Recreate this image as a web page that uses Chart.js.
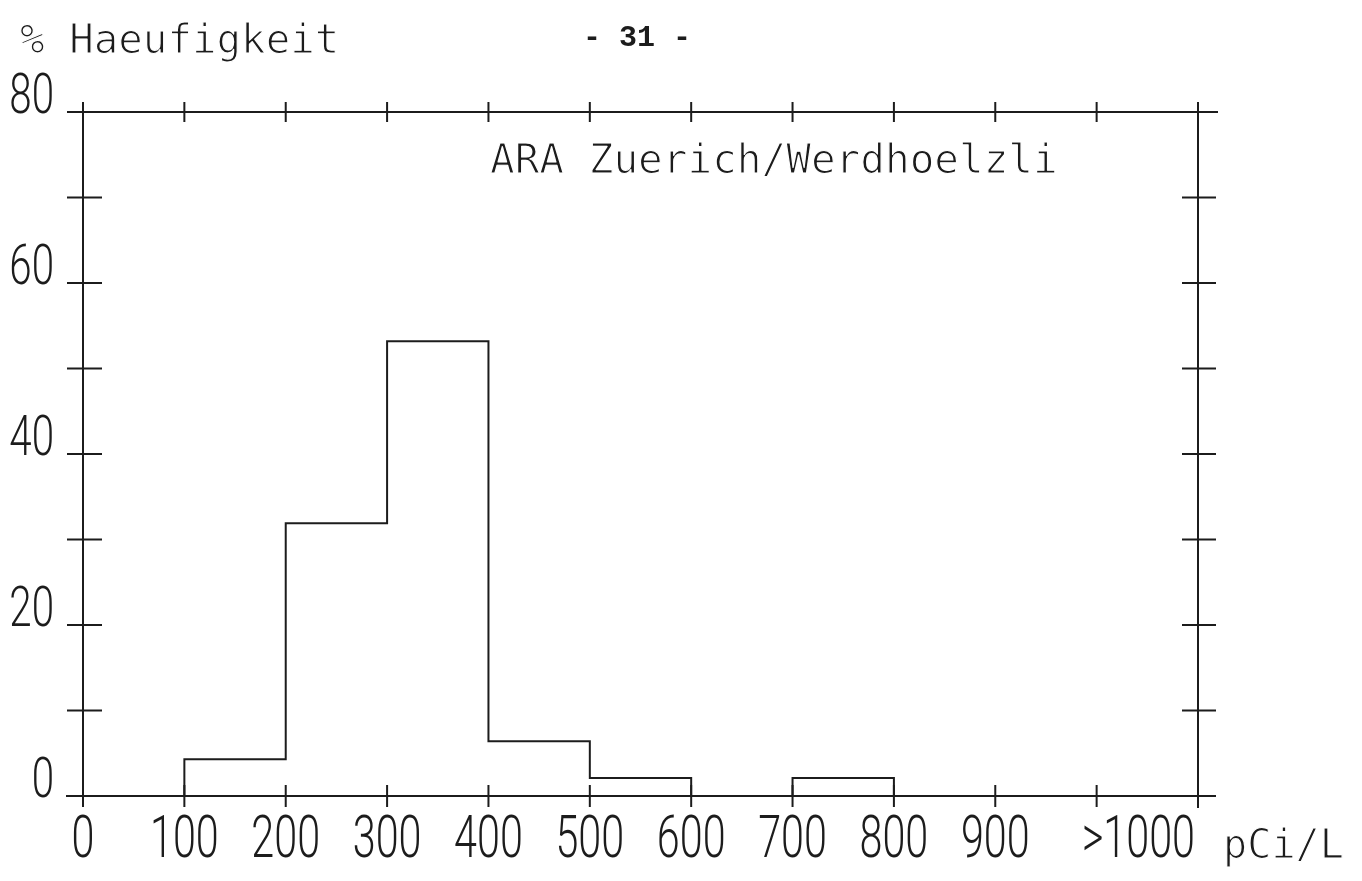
<!DOCTYPE html>
<html>
<head>
<meta charset="utf-8">
<script src="https://cdn.jsdelivr.net/npm/chart.js@4.4.0/dist/chart.umd.min.js"></script>
<style>
html,body{margin:0;padding:0;background:#fff;}
canvas{display:block;}
</style>
</head>
<body>
<canvas id="c" width="1362" height="881"></canvas>
<script>
// ---- data ----
const binEdges = [0, 100, 200, 300, 400, 500, 600, 700, 800, 900, 1000, 1100];
const frequencies = [0, 4.3, 31.9, 53.2, 6.4, 2.1, 0, 2.1, 0, 0, 0]; // % per bin
const xTickValues = [0, 100, 200, 300, 400, 500, 600, 700, 800, 900, 1000, 1100];
const xTickLabels = ['0', '100', '200', '300', '400', '500', '600', '700', '800', '900', '', '>1000'];
const yTickValues = [0, 10, 20, 30, 40, 50, 60, 70, 80];
const yLabelValues = [0, 20, 40, 60, 80];
const yLabelTexts = ['0', '20', '40', '60', '80'];
const yAxisTitle = '% Haeufigkeit';
const xAxisUnit = 'pCi/L';
const stationName = 'ARA Zuerich/Werdhoelzli';
const pageNumber = '- 31 -';

// stepped outline points (value of a bin holds from its left edge to the next edge)
const outline = frequencies.map((v, i) => ({ x: binEdges[i], y: v }));
outline.push({ x: binEdges[binEdges.length - 1], y: 0 });

const INK = '#1c1c1c';
const DIGIT_FONT = "300 59px Roboto, 'DejaVu Sans', sans-serif";
const YDIGIT_FONT = "300 56px Roboto, 'DejaVu Sans', sans-serif";
const TEXT_FONT = "41px 'DejaVu Sans Mono', 'Liberation Mono', monospace";

function drawText(ctx, text, x, y, font, sx, align, opts) {
  opts = opts || {};
  ctx.save();
  ctx.font = font;
  ctx.fillStyle = INK;
  ctx.textBaseline = 'alphabetic';
  ctx.textAlign = align;
  ctx.translate(x, y);
  ctx.scale(sx, 1);
  ctx.fillText(text, 0, 0);
  if (opts.thin) {
    // thin the strokes to look like a pen-plotter line
    ctx.strokeStyle = '#ffffff';
    ctx.lineWidth = opts.thin;
    ctx.lineJoin = 'round';
    ctx.strokeText(text, 0, 0);
  }
  ctx.restore();
}

const plotterFrame = {
  id: 'plotterFrame',
  afterDraw(chart) {
    const ctx = chart.ctx;
    const xs = chart.scales.x, ys = chart.scales.y;
    const L = xs.getPixelForValue(xs.min), R = xs.getPixelForValue(xs.max);
    const B = ys.getPixelForValue(ys.min), T = ys.getPixelForValue(ys.max);
    ctx.save();
    ctx.strokeStyle = INK;
    ctx.lineWidth = 2;
    ctx.beginPath();
    // axis lines (slightly overshooting, like the plotter)
    ctx.moveTo(L - 17, B); ctx.lineTo(R + 15, B);
    ctx.moveTo(L - 16, T); ctx.lineTo(R + 20, T);
    ctx.moveTo(L, T - 4); ctx.lineTo(L, B + 10);
    ctx.moveTo(R, T - 7); ctx.lineTo(R, B + 12);
    // x ticks top & bottom (crossing)
    xTickValues.forEach(v => {
      const px = xs.getPixelForValue(v);
      ctx.moveTo(px, B - 11); ctx.lineTo(px, B + 11);
      ctx.moveTo(px, T - 10); ctx.lineTo(px, T + 10);
    });
    // y ticks left & right (crossing)
    yTickValues.forEach(v => {
      const py = ys.getPixelForValue(v);
      ctx.moveTo(L - 16, py); ctx.lineTo(L + 19, py);
      ctx.moveTo(R - 16, py); ctx.lineTo(R + 18, py);
    });
    ctx.stroke();
    ctx.restore();

    // x labels
    xTickValues.forEach((v, i) => {
      const t = xTickLabels[i];
      if (!t) return;
      const px = xs.getPixelForValue(v);
      const last = i === xTickValues.length - 1;
      drawText(ctx, t, last ? px - 3 : px, B + 61, DIGIT_FONT, 0.7, last ? 'right' : 'center');
    });
    // y labels (sitting on their tick)
    yLabelValues.forEach((v, i) => {
      const py = ys.getPixelForValue(v);
      drawText(ctx, yLabelTexts[i], L - 29, py + 1, YDIGIT_FONT, 0.72, 'right');
    });
    // texts
    drawText(ctx, yAxisTitle, 20, 53, "40px 'DejaVu Sans Mono', monospace", 1.02, 'left', { thin: 1.2 });
    drawText(ctx, xAxisUnit, R + 25, B + 62, TEXT_FONT, 0.98, 'left', { thin: 1.2 });
    drawText(ctx, stationName, 490, 173, TEXT_FONT, 1.0, 'left', { thin: 1.2 });
    drawText(ctx, pageNumber, 637, 46, "bold 30px 'Liberation Mono', 'DejaVu Sans Mono', monospace", 1.0, 'center');
  }
};

new Chart(document.getElementById('c').getContext('2d'), {
  type: 'line',
  data: {
    datasets: [{
      data: outline,
      stepped: true,
      borderColor: INK,
      borderWidth: 2,
      pointRadius: 0,
      fill: false,
      tension: 0
    }]
  },
  options: {
    responsive: false,
    animation: false,
    devicePixelRatio: 1,
    layout: { padding: { left: 83, right: 164, top: 112, bottom: 85 } },
    scales: {
      x: { type: 'linear', min: 0, max: 1100, display: false },
      y: { type: 'linear', min: 0, max: 80, display: false }
    },
    plugins: {
      legend: { display: false },
      tooltip: { enabled: false }
    }
  },
  plugins: [plotterFrame]
});
</script>
</body>
</html>
